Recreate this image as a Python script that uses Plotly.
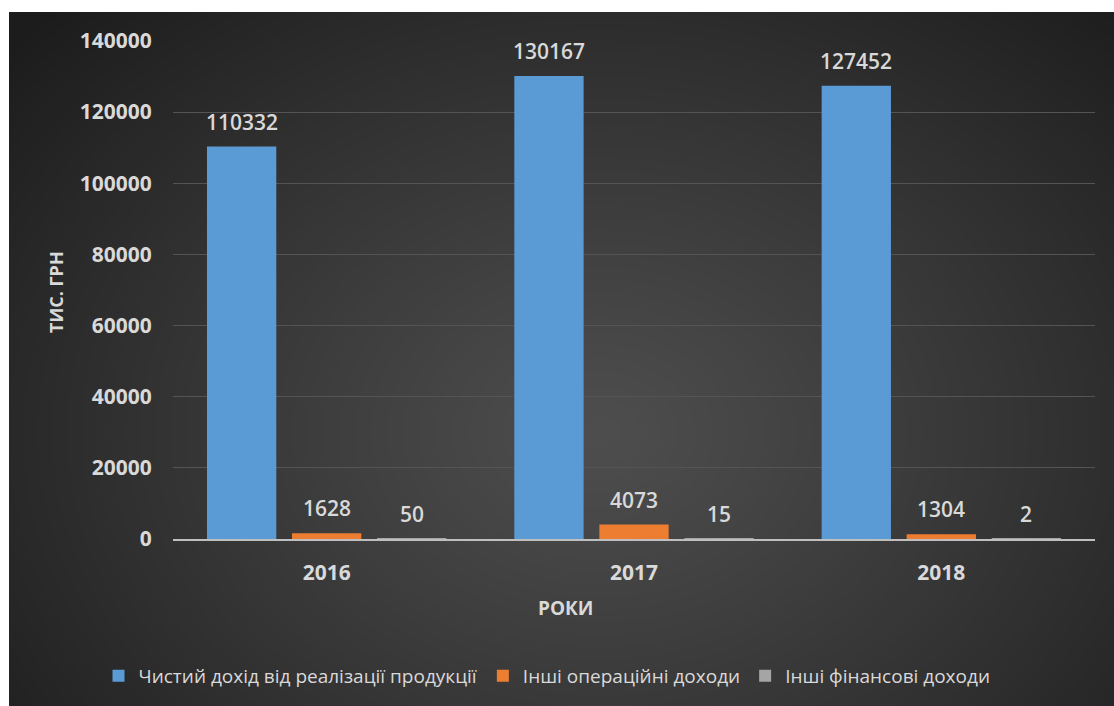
import base64, struct, zlib
import numpy as np
import plotly.graph_objects as go

years = ["2016", "2017", "2018"]
series_names = ["Чистий дохід від реалізації продукції", "Інші операційні доходи", "Інші фінансові доходи"]
net_income = [110332, 130167, 127452]
other_oper = [1628, 4073, 1304]
other_fin = [50, 15, 2]
series_values = [net_income, other_oper, other_fin]
colors = ["#5b9bd5", "#ed7d31", "#a5a5a5"]
y_ticks = [0, 20000, 40000, 60000, 80000, 100000, 120000, 140000]

W, H = 1114, 706
L, R, T, B = 173, 19, 41, 167
pw, ph = W - L - R, H - T - B

def px_x(x):
    return (x - L) / pw

def px_y(y):
    return (H - B - y) / ph

# radial gradient background as PNG
gw, gh = 1105, 694
yy, xx = np.mgrid[0:gh, 0:gw]
cx, cy = 590, 420
d = np.sqrt(((xx - cx) / 720.0) ** 2 + ((yy - cy) / 560.0) ** 2)
val = 78 - 46 * np.clip(d, 0, 1.2) ** 1.1
img = np.clip(val, 28, 90).astype(np.uint8)
raw = b"".join(b"\x00" + img[r].tobytes() for r in range(gh))
def chunk(t, data):
    c = struct.pack(">I", len(data)) + t + data
    return c + struct.pack(">I", zlib.crc32(t + data) & 0xffffffff)
png = b"\x89PNG\r\n\x1a\n" + chunk(b"IHDR", struct.pack(">IIBBBBB", gw, gh, 8, 0, 0, 0, 0)) \
    + chunk(b"IDAT", zlib.compress(raw, 9)) + chunk(b"IEND", b"")
bg_src = "data:image/png;base64," + base64.b64encode(png).decode()

bargap = 0.17
fig = go.Figure()
for name, vals, col in zip(series_names, series_values, colors):
    fig.add_trace(go.Bar(x=years, y=vals, name=name, marker=dict(color=col, line=dict(width=0))))

slot = (1 - bargap) / len(series_names)
annotations = []
for si, vals in enumerate(series_values):
    off = (si - (len(series_names) - 1) / 2) * slot
    for ci, v in enumerate(vals):
        annotations.append(dict(x=ci + off, y=v, xref="x", yref="y", text=str(v), showarrow=False,
                                yanchor="middle", yshift=25,
                                font=dict(family="Open Sans", size=21, color="#d9d9d9", weight=600)))
annotations.append(dict(x=px_x(56), y=px_y(292), xref="paper", yref="paper", text="<b>ТИС. ГРН</b>",
                        textangle=-90, showarrow=False, xanchor="center", yanchor="middle",
                        font=dict(family="Open Sans", size=18, color="#d9d9d9")))
annotations.append(dict(x=px_x(565), y=px_y(608), xref="paper", yref="paper", text="<b>РОКИ</b>",
                        showarrow=False, xanchor="center", yanchor="middle",
                        font=dict(family="Open Sans", size=19, color="#d9d9d9")))

fig.update_layout(
    width=W, height=H,
    margin=dict(l=L, r=R, t=T, b=B, autoexpand=False),
    paper_bgcolor="white", plot_bgcolor="rgba(0,0,0,0)",
    barmode="group", bargap=bargap, bargroupgap=0.185,
    images=[dict(source=bg_src, xref="paper", yref="paper", x=px_x(9), y=px_y(12),
                 sizex=(W - 9) / pw, sizey=(H - 12) / ph, sizing="stretch",
                 xanchor="left", yanchor="top", layer="below")],
    annotations=annotations,
    showlegend=True,
    legend=dict(orientation="h", x=px_x(547), xanchor="center", y=px_y(676), yanchor="middle",
                font=dict(family="Open Sans", size=19, color="#d9d9d9"), bgcolor="rgba(0,0,0,0)"),
    xaxis=dict(type="category", showgrid=False, showline=True, linecolor="#bfbfbf", linewidth=2,
               ticks="outside", ticklen=14, tickcolor="rgba(0,0,0,0)",
               tickfont=dict(family="Open Sans", size=21, color="#d9d9d9", weight="bold")),
    yaxis=dict(range=[0, 140000], tickvals=y_ticks, ticktext=[str(t) for t in y_ticks],
               showgrid=True, gridcolor="#545454", gridwidth=1, zeroline=False, showline=False,
               ticks="outside", ticklen=16, tickcolor="rgba(0,0,0,0)",
               tickfont=dict(family="Open Sans", size=21, color="#d9d9d9", weight="bold")),
)

fig.write_html("out.html", config={"displayModeBar": False},
               post_script="document.body.style.margin='0';document.body.style.overflow='hidden';")
